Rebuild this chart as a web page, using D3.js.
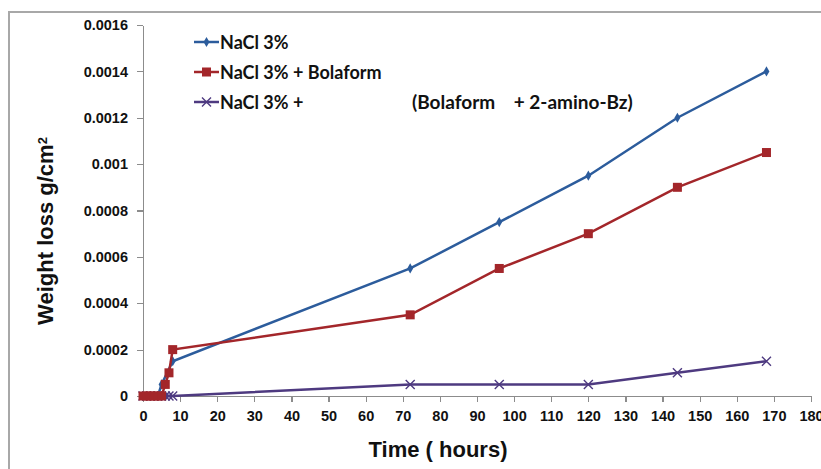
<!DOCTYPE html>
<html lang="en">
<head>
<meta charset="UTF-8">
<title>Weight loss vs time</title>
<script src="https://cdn.jsdelivr.net/npm/d3@7"></script>
<style>
  body { margin: 0; background: #fff; }
  svg { display: block; font-family: Lato, "Open Sans", sans-serif; }
  .axis path, .axis line { stroke: #8c8c8c; stroke-width: 1.2px; shape-rendering: crispEdges; }
  .axis text { font-size: 14.5px; font-weight: bold; fill: #111; }
  .title { font-family: "Liberation Sans", Arial, sans-serif; font-weight: bold; fill: #111; }
  .legend text { font-size: 18px; font-weight: bold; fill: #111; }
</style>
</head>
<body>
<script>
// x ticks (hours) and y ticks (weight loss)
var xTicks = [0, 10, 20, 30, 40, 50, 60, 70, 80, 90, 100, 110, 120, 130, 140, 150, 160, 170, 180];
var yTicks = [0, 0.0002, 0.0004, 0.0006, 0.0008, 0.001, 0.0012, 0.0014, 0.0016];
var yTickLabels = ["0", "0.0002", "0.0004", "0.0006", "0.0008", "0.001", "0.0012", "0.0014", "0.0016"];

// series
var hoursNaCl = [0, 1, 2, 3, 4, 5, 8, 72, 96, 120, 144, 168];
var lossNaCl = [0, 0, 0, 0, 0, 0.00005, 0.00015, 0.00055, 0.00075, 0.00095, 0.0012, 0.0014];

var hoursBola = [0, 1, 2, 3, 4, 5, 6, 7, 8, 72, 96, 120, 144, 168];
var lossBola = [0, 0, 0, 0, 0, 0, 0.00005, 0.0001, 0.0002, 0.00035, 0.00055, 0.0007, 0.0009, 0.00105];

var hoursAmino = [0, 1, 2, 3, 4, 5, 6, 7, 8, 72, 96, 120, 144, 168];
var lossAmino = [0, 0, 0, 0, 0, 0, 0, 0, 0, 0.00005, 0.00005, 0.00005, 0.0001, 0.00015];

var seriesNames = ["NaCl 3%", "NaCl 3% + Bolaform", "NaCl 3% +"];
var seriesColors = ["#2c5c9c", "#a3262a", "#4e3a80"];
var seriesMarkers = ["diamond", "square", "cross"];

var width = 821, height = 469;
var margin = {left: 143, right: 10, top: 25, bottom: 73};

var svg = d3.select("body").append("svg")
  .attr("width", width)
  .attr("height", height);

// outer frame (only left and top edges are inside the picture)
svg.append("path")
  .attr("d", "M9,469 V12 H821")
  .attr("fill", "none")
  .attr("stroke", "#a8a8a8")
  .attr("stroke-width", 2);

var x = d3.scaleLinear().domain([0, 180]).range([margin.left, 811]);
var y = d3.scaleLinear().domain([0, 0.0016]).range([396, 25]);

svg.append("g")
  .attr("class", "axis")
  .attr("transform", "translate(0," + y(0) + ")")
  .call(d3.axisBottom(x).tickValues(xTicks).tickSize(6).tickSizeOuter(0).tickPadding(6))
  .selectAll("text").attr("dy", "0.9em");

svg.append("g")
  .attr("class", "axis")
  .attr("transform", "translate(" + x(0) + ",0)")
  .call(d3.axisLeft(y).tickValues(yTicks).tickSize(6).tickSizeOuter(0).tickPadding(9)
    .tickFormat(function(d, i) { return yTickLabels[i]; }));

// axis titles
svg.append("text")
  .attr("class", "title")
  .attr("x", 438).attr("y", 457)
  .attr("text-anchor", "middle")
  .style("font-size", "22px")
  .text("Time ( hours)");

var yTitle = svg.append("text")
  .attr("class", "title")
  .attr("transform", "translate(53,231) rotate(-90)")
  .attr("text-anchor", "middle")
  .style("font-size", "22px");
yTitle.append("tspan").text("Weight loss  g/cm");
yTitle.append("tspan").attr("dy", "-0.5em").style("font-size", "13px").text("2");

function marker(sel, type, color) {
  if (type === "diamond") {
    sel.append("path").attr("d", d3.symbol(d3.symbolDiamond, 30)())
      .attr("fill", color);
  } else if (type === "square") {
    sel.append("rect").attr("x", -4.5).attr("y", -4.5).attr("width", 9).attr("height", 9)
      .attr("fill", color);
  } else {
    sel.append("path").attr("d", "M-4.5,-4.5L4.5,4.5M-4.5,4.5L4.5,-4.5")
      .attr("stroke", color).attr("stroke-width", 1.4).attr("fill", "none");
  }
}

var allSeries = [
  {hours: hoursAmino, loss: lossAmino, i: 2},
  {hours: hoursNaCl, loss: lossNaCl, i: 0},
  {hours: hoursBola, loss: lossBola, i: 1}
];

var line = d3.line().x(function(d) { return x(d[0]); }).y(function(d) { return y(d[1]); });

allSeries.forEach(function(s) {
  var pts = s.hours.map(function(h, k) { return [h, s.loss[k]]; });
  var g = svg.append("g");
  g.append("path")
    .datum(pts)
    .attr("d", line)
    .attr("fill", "none")
    .attr("stroke", seriesColors[s.i])
    .attr("stroke-width", 2.5);
  g.selectAll("g.pt").data(pts).enter().append("g")
    .attr("class", "pt")
    .attr("transform", function(d) { return "translate(" + x(d[0]) + "," + y(d[1]) + ")"; })
    .each(function() { marker(d3.select(this), seriesMarkers[s.i], seriesColors[s.i]); });
});

// legend
var legend = svg.append("g").attr("class", "legend");
seriesNames.forEach(function(name, i) {
  var ly = 42 + i * 30;
  var row = legend.append("g");
  row.append("line")
    .attr("x1", 194).attr("x2", 219).attr("y1", ly).attr("y2", ly)
    .attr("stroke", seriesColors[i]).attr("stroke-width", 2.5);
  marker(row.append("g").attr("transform", "translate(206.5," + ly + ")"), seriesMarkers[i], seriesColors[i]);
  row.append("text").attr("x", 220).attr("y", ly + 6.5).text(name);
});
legend.append("text").attr("x", 412).attr("y", 42 + 2 * 30 + 6.5)
  .attr("xml:space", "preserve")
  .style("white-space", "pre")
  .style("font-size", "19px")
  .text("(Bolaform    + 2-amino-Bz)");
</script>
</body>
</html>
